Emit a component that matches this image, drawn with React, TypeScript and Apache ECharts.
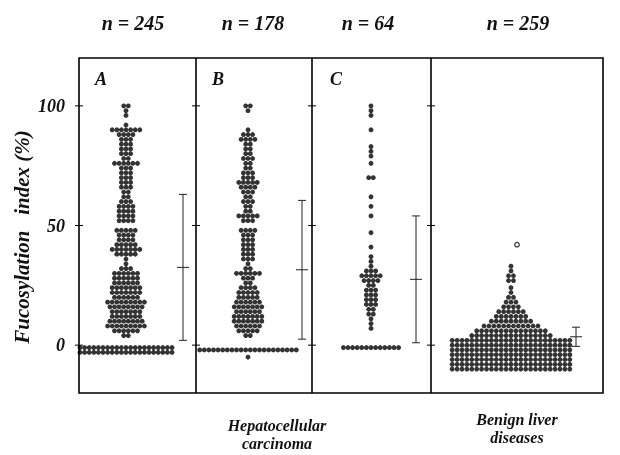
import React, { useEffect, useRef } from "react";
import * as echarts from "echarts";

// [value (%), number of patients in that row]
const rowsA: [number, number][] = [
  [100, 2], [98, 1], [96, 1], [92, 1], [90, 7], [88, 4], [86, 3], [84, 3], [82, 3], [80, 3], [78, 2],
  [76, 6], [74, 3], [72, 3], [70, 3], [68, 3], [66, 3], [64, 2], [62, 2], [60, 3], [58, 4], [56, 4],
  [54, 4], [52, 4], [48, 5], [46, 4], [44, 4], [42, 5], [40, 7], [38, 5], [36, 1], [34, 1], [32, 3],
  [30, 6], [28, 6], [26, 6], [24, 7], [22, 7], [20, 6], [18, 9], [16, 8], [14, 7], [12, 7], [10, 8],
  [8, 9], [6, 6], [4, 2], [-1, 21], [-3, 21],
];
const rowsB: [number, number][] = [
  [100, 2], [98, 1], [90, 1], [88, 3], [86, 4], [84, 2], [82, 2], [80, 2], [78, 3], [76, 2], [74, 2],
  [72, 3], [70, 3], [68, 5], [66, 4], [64, 3], [62, 2], [60, 3], [58, 2], [56, 2], [54, 5], [52, 3],
  [48, 4], [46, 3], [44, 3], [42, 3], [40, 3], [38, 3], [36, 3], [34, 1], [32, 2], [30, 6], [28, 3],
  [26, 2], [24, 4], [22, 5], [20, 5], [18, 6], [16, 7], [14, 6], [12, 7], [10, 7], [8, 6], [6, 5],
  [4, 2], [-2, 22], [-5, 1],
];
const rowsC: [number, number][] = [
  [100, 1], [98, 1], [96, 1], [90, 1], [83, 1], [81, 1], [79, 1], [76, 1], [70, 2], [62, 1], [58, 1],
  [54, 1], [47, 1], [41, 1], [37, 1], [35, 1], [33, 1], [31, 3], [29, 5], [27, 4], [25, 2], [23, 3],
  [21, 3], [19, 3], [17, 3], [15, 2], [13, 2], [11, 1], [9, 1], [7, 1], [-1, 13],
];
const rowsD: [number, number][] = [
  [33, 1], [31, 1], [29, 2], [27, 2], [24, 1], [22, 1], [20, 2], [18, 3], [16, 4], [14, 6], [12, 7],
  [10, 9], [8, 12], [6, 15], [4, 17], [2, 25], [0, 25], [-2, 25], [-4, 25], [-6, 25], [-8, 25], [-10, 25],
];
const openD: [number, number][] = [[42, 1]];

// mean, SD for each group
const meanSd: [number, number][] = [[32.5, 30.5], [31.5, 29], [27.5, 26.5], [3.5, 4]];

const countLabels = ["n = 245", "n = 178", "n = 64", "n = 259"];
const panelLetters = ["A", "B", "C"];
const groupLabels = ["Hepatocellular\ncarcinoma", "Benign liver\ndiseases"];
const yTicks = [0, 50, 100];
const yName = "Fucosylation   index (%)";

// layout (x in pixels from left frame)
const X_MAX = 524;
const centers = [47, 169, 292, 432];
const spacing = [4.6, 4.6, 4.6, 4.9];
const errX = [104, 223, 337, 497];
const dividers = [0, 117, 233, 352, 524];

const SERIF = "'Liberation Serif', 'DejaVu Serif', serif";

function layoutRows(rows: [number, number][], cx: number, sp: number) {
  const pts: [number, number][] = [];
  rows.forEach(([v, k]) => {
    for (let i = 0; i < k; i++) pts.push([cx + (i - (k - 1) / 2) * sp, v]);
  });
  return pts;
}

export default function App() {
  const ref = useRef<HTMLDivElement>(null);
  useEffect(() => {
    if (!ref.current) return;
    const chart = echarts.init(ref.current, undefined, { renderer: "svg" });
    const panels = [rowsA, rowsB, rowsC, rowsD];
    const dots = panels.flatMap((r, i) => layoutRows(r, centers[i], spacing[i]));
    const open = layoutRows(openD, centers[3] + 6, spacing[3]);
    const errData = meanSd.map(([m, s], i) => [errX[i], m, s]);
    const tickData: number[][] = [];
    dividers.slice(0, 4).forEach((d) => yTicks.forEach((t) => tickData.push([d, t])));
    const lineStyle = { stroke: "#222", lineWidth: 1 };

    chart.setOption({
      animation: false,
      grid: {
        left: 79, top: 58, width: X_MAX, height: 335, show: true,
        borderColor: "#000", borderWidth: 1.6, backgroundColor: "transparent",
      },
      xAxis: { type: "value", min: 0, max: X_MAX, show: false },
      yAxis: {
        type: "value", min: -20, max: 120,
        axisLine: { show: false }, axisTick: { show: false }, splitLine: { show: false },
        axisLabel: {
          customValues: yTicks, margin: 14, color: "#111",
          fontFamily: SERIF, fontStyle: "italic", fontWeight: "bold", fontSize: 18,
        },
      },
      series: [
        {
          type: "custom", silent: true, clip: false,
          data: dividers.slice(1, 4).map((d) => [d]),
          renderItem: (p: any, api: any) => {
            const a = api.coord([api.value(0), 120]);
            const b = api.coord([api.value(0), -20]);
            return { type: "line", shape: { x1: a[0], y1: a[1], x2: b[0], y2: b[1] }, style: { stroke: "#000", lineWidth: 1.6 } };
          },
        },
        {
          type: "custom", silent: true, clip: false, data: tickData,
          renderItem: (p: any, api: any) => {
            const c = api.coord([api.value(0), api.value(1)]);
            return { type: "line", shape: { x1: c[0] - 4, y1: c[1], x2: c[0] + 4, y2: c[1] }, style: { stroke: "#000", lineWidth: 1 } };
          },
        },
        {
          type: "custom", silent: true, data: errData,
          renderItem: (p: any, api: any) => {
            const x = api.value(0), m = api.value(1), s = api.value(2);
            const t = api.coord([x, m + s]);
            const b = api.coord([x, m - s]);
            const c = api.coord([x, m]);
            return {
              type: "group",
              children: [
                { type: "line", shape: { x1: t[0], y1: t[1], x2: b[0], y2: b[1] }, style: lineStyle },
                { type: "line", shape: { x1: t[0] - 4, y1: t[1], x2: t[0] + 4, y2: t[1] }, style: lineStyle },
                { type: "line", shape: { x1: b[0] - 4, y1: b[1], x2: b[0] + 4, y2: b[1] }, style: lineStyle },
                { type: "line", shape: { x1: c[0] - 6, y1: c[1], x2: c[0] + 6, y2: c[1] }, style: lineStyle },
              ],
            };
          },
        },
        {
          type: "scatter", data: dots, symbol: "circle", symbolSize: 4.9,
          itemStyle: { color: "#000" }, silent: true,
        },
        {
          type: "scatter", data: open, symbol: "circle", symbolSize: 4.6,
          itemStyle: { color: "#fff", borderColor: "#000", borderWidth: 1.2 }, silent: true,
        },
      ],
      graphic: [
        ...countLabels.map((t, i) => ({
          type: "text", x: [133, 253, 368, 518][i], y: 23,
          style: { text: t, font: `italic bold 20px ${SERIF}`, fill: "#111", align: "center", verticalAlign: "middle" },
        })),
        ...panelLetters.map((t, i) => ({
          type: "text", x: [101, 218, 336][i], y: 79,
          style: { text: t, font: `italic bold 18px ${SERIF}`, fill: "#111", align: "center", verticalAlign: "middle" },
        })),
        ...groupLabels.map((t, i) => ({
          type: "text", x: [277, 517][i], y: [416, 410][i],
          style: { text: t, font: `italic bold 16px ${SERIF}`, fill: "#111", align: "center", verticalAlign: "top", lineHeight: 18 },
        })),
        {
          type: "text", x: 22, y: 237, rotation: Math.PI / 2,
          style: { text: yName, font: `italic bold 21px ${SERIF}`, fill: "#111", align: "center", verticalAlign: "middle" },
        },
      ],
    });
    return () => chart.dispose();
  }, []);
  return <div ref={ref} style={{ position: "fixed", left: 0, top: 0, width: 620, height: 455 }} />;
}
